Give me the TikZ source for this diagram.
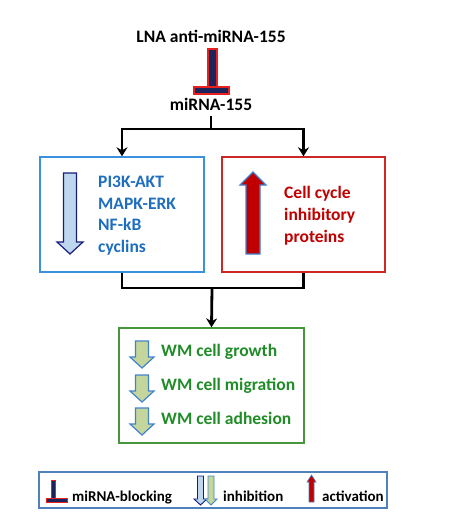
\documentclass[tikz,border=0pt]{standalone}
\usepackage{fontspec}
\setmainfont{Carlito}
\usetikzlibrary{arrows.meta}

\definecolor{navyblk}{RGB}{28,36,92}
\definecolor{blockred}{RGB}{232,32,32}
\definecolor{pathblue}{RGB}{30,110,192}
\definecolor{boxblue}{RGB}{58,146,220}
\definecolor{lightblue}{RGB}{190,214,238}
\definecolor{darkred}{RGB}{192,0,0}
\definecolor{boxred}{RGB}{204,40,40}
\definecolor{wmgreen}{RGB}{32,140,40}
\definecolor{boxgreen}{RGB}{70,150,60}
\definecolor{lightgreen}{RGB}{196,214,156}
\definecolor{edgeblue}{RGB}{64,130,206}
\definecolor{legblue}{RGB}{79,129,189}

\tikzset{
  conn/.style={line width=2.8pt, black},
  tip/.style={-{Stealth[length=9pt,width=11pt,inset=3pt]}},
  box/.style={draw, line width=1.4pt, minimum height=115pt, inner sep=0pt},
  txt/.style={font=\fontsize{17.5}{20}\selectfont\bfseries, inner sep=0pt},
  legtxt/.style={font=\fontsize{15}{18}\selectfont\bfseries, inner sep=0pt, anchor=base west},
  blocker/.style={fill=navyblk, draw=blockred, line width=1.2pt},
  downblue/.style={fill=lightblue, draw=navyblk!80!blue, line width=1.2pt},
  downgreen/.style={fill=lightgreen, draw=edgeblue, line width=1.2pt},
  upred/.style={fill=darkred, draw=edgeblue, line width=1.2pt}
}

\begin{document}
\begin{tikzpicture}[x=1pt, y=-1pt]
  \useasboundingbox (0,0) rectangle (450,532);

  % Top part
  \node[txt, anchor=base] (lna) at (211,43) {LNA anti-miRNA-155};
  \draw[blocker] (208,49) rectangle (217,87);
  \draw[blocker] (194,87) rectangle (229,94);
  \node[txt, anchor=base, inner sep=5pt] (mir) at (211,110.5) {miRNA-155};
  \coordinate (split) at (211,129);

  % Boxes
  \node[box, draw=boxblue, minimum width=164pt] (lbox) at (122,214.5) {};
  \node[box, draw=boxred, minimum width=163pt] (rbox) at (303.5,214.5) {};
  \node[box, draw=boxgreen, minimum width=185pt] (wmbox) at (211.5,385.5) {};
  \coordinate (join) at (212,288);

  % Edges
  \draw[conn] (mir.south) -- (split);
  \draw[conn, tip] (split) -| (lbox.north);
  \draw[conn, tip] (split) -| (rbox.north);
  \draw[conn] (lbox.south) |- (join) -| (rbox.south);
  \draw[conn, tip] (join) -- (wmbox.north);

  % Left box
  \draw[downblue] (63.5,173) -- (76.5,173) -- (76.5,242) -- (83,242) -- (70,254)
    -- (57,242) -- (63.5,242) -- cycle;
  \node[txt, text=pathblue, anchor=base west] (pi3k) at (98,187.5) {PI3K-AKT};
  \node[txt, text=pathblue, anchor=base west] (mapk) at (98,209) {MAPK-ERK};
  \node[txt, text=pathblue, anchor=base west] (nfkb) at (98,230.5) {NF-kB};
  \node[txt, text=pathblue, anchor=base west] (cyc) at (98,252) {cyclins};

  % Right box
  \draw[upred] (253,172) -- (266,185) -- (260,185) -- (260,254) -- (246,254)
    -- (246,185) -- (240,185) -- cycle;
  \node[txt, text=darkred, anchor=base west] (cell) at (284,198.5) {Cell cycle};
  \node[txt, text=darkred, anchor=base west] (inhib) at (284,220.5) {inhibitory};
  \node[txt, text=darkred, anchor=base west] (prot) at (284,242.5) {proteins};

  % Green box
  \foreach \t/\w in {341/growth, 375/migration, 408/adhesion} {
    \draw[downgreen] (135.5,\t) -- (148.5,\t) -- (148.5,\t+16) -- (154,\t+16)
      -- (142,\t+27) -- (130,\t+16) -- (135.5,\t+16) -- cycle;
  }
  \node[txt, text=wmgreen, anchor=base west] (growth) at (161,356) {WM cell growth};
  \node[txt, text=wmgreen, anchor=base west] (migr) at (161,390.5) {WM cell migration};
  \node[txt, text=wmgreen, anchor=base west] (adhes) at (161,424) {WM cell adhesion};

  % Legend
  \node[draw=legblue, line width=1.2pt, minimum width=348pt, minimum height=36pt,
    inner sep=0pt] (legend) at (213,490) {};
  \draw[blocker, line width=0.8pt] (51,480) rectangle (55,498);
  \draw[blocker, line width=0.8pt] (46,498) rectangle (67,502);
  \node[legtxt] (lblock) at (72,501.5) {miRNA-blocking};
  \draw[downblue, line width=0.9pt] (197.5,476) -- (203.5,476) -- (203.5,499) -- (207,499)
    -- (200.5,505) -- (194,499) -- (197.5,499) -- cycle;
  \draw[downgreen, line width=0.9pt] (208,476) -- (214,476) -- (214,499) -- (217,499)
    -- (211,505) -- (205,499) -- (208,499) -- cycle;
  \node[legtxt] (linhib) at (223,501.5) {inhibition};
  \draw[upred, line width=0.6pt] (311.5,475) -- (316,482) -- (314,482) -- (314,502)
    -- (309,502) -- (309,482) -- (307,482) -- cycle;
  \node[legtxt] (lact) at (322,501.5) {activation};
\end{tikzpicture}
\end{document}
